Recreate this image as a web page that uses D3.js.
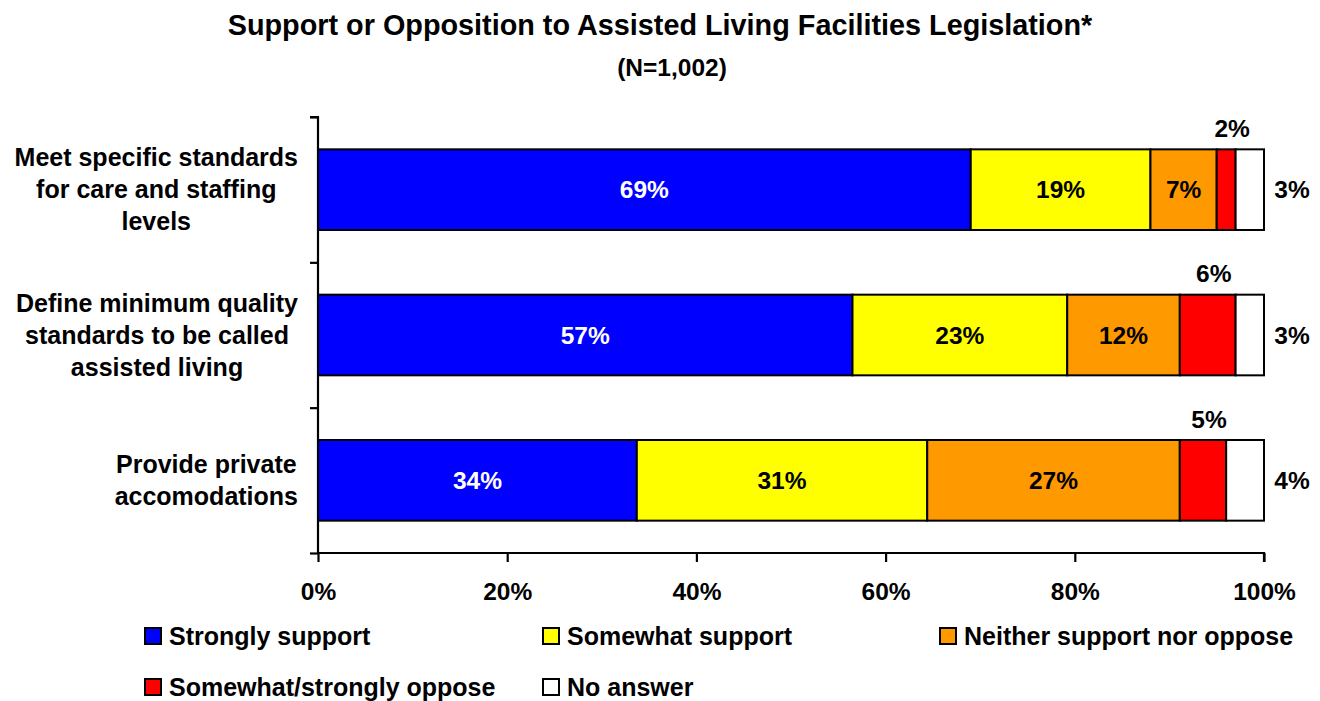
<!DOCTYPE html>
<html>
<head>
<meta charset="utf-8">
<script src="https://cdn.jsdelivr.net/npm/d3@7"></script>
<style>
  html, body { margin: 0; padding: 0; background: #fff; }
  svg { display: block; font-family: "Liberation Sans", Arial, sans-serif; font-weight: bold; }
</style>
</head>
<body>
<svg id="chart" width="1320" height="701"></svg>
<script>
// Survey items (each bar), wrapped into lines for the left-hand labels
const categories = [
  ["Meet specific standards", "for care and staffing", "levels"],
  ["Define minimum quality", "standards to be called", "assisted living"],
  ["Provide private", "accomodations"]
];

// Response shares, in percent, per item (same order as categories)
const stronglySupport  = [69.0, 56.5, 33.7];
const somewhatSupport  = [19.0, 22.7, 30.7];
const neitherSupport   = [7.0, 11.9, 26.7];
const oppose           = [2.0, 5.9, 4.9];
const noAnswer         = [3.0, 3.0, 4.0];

const seriesNames  = ["Strongly support", "Somewhat support", "Neither support nor oppose",
                      "Somewhat/strongly oppose", "No answer"];
const seriesColors = ["#0000FF", "#FFFF00", "#FF9900", "#FF0000", "#FFFFFF"];
const xTicks = [0, 20, 40, 60, 80, 100];

const title = "Support or Opposition to Assisted Living Facilities Legislation*";
const subtitle = "(N=1,002)";

const seriesValues = [stronglySupport, somewhatSupport, neitherSupport, oppose, noAnswer];

const svg = d3.select("#chart");
const margin = { left: 318, right: 1264, top: 117, bottom: 553 };

const x = d3.scaleLinear().domain([0, 100]).range([margin.left, margin.right]);
const slots = d3.range(categories.length);
const y = d3.scaleBand().domain(slots).range([margin.top, margin.bottom])
  .paddingInner(0.445).paddingOuter(0.2225);

// Title
svg.append("text").attr("x", 660).attr("y", 35).attr("text-anchor", "middle")
  .attr("font-size", 28.8).text(title);
svg.append("text").attr("x", 672).attr("y", 76).attr("text-anchor", "middle")
  .attr("font-size", 24.5).text(subtitle);

// Stack the segments
const rows = slots.map(i => {
  let acc = 0;
  return seriesValues.map((vals, s) => {
    const seg = { row: i, series: s, value: vals[i], x0: acc, x1: acc + vals[i] };
    acc += vals[i];
    return seg;
  });
});
const segments = rows.flat();

const g = svg.append("g");
g.selectAll("rect.seg").data(segments).join("rect")
  .attr("class", "seg")
  .attr("x", d => x(d.x0))
  .attr("y", d => y(d.row))
  .attr("width", d => x(d.x1) - x(d.x0))
  .attr("height", y.bandwidth())
  .attr("fill", d => seriesColors[d.series])
  .attr("stroke", "#000")
  .attr("stroke-width", 2);

// Value labels
const label = d => Math.round(d.value) + "%";
segments.forEach(d => {
  const cy = y(d.row) + y.bandwidth() / 2;
  const t = svg.append("text").attr("font-size", 24.5).text(label(d));
  if (d.series <= 2) {
    t.attr("x", (x(d.x0) + x(d.x1)) / 2).attr("y", cy + 8.5)
      .attr("text-anchor", "middle")
      .attr("fill", d.series === 0 ? "#fff" : "#000");
  } else if (d.series === 3) {
    t.attr("x", (x(d.x0) + x(d.x1)) / 2 + 6).attr("y", y(d.row) - 12.5)
      .attr("text-anchor", "middle");
  } else {
    t.attr("x", x(100) + 28).attr("y", cy + 8.5).attr("text-anchor", "middle");
  }
});

// Axes
const yAxis = d3.axisLeft(d3.scaleLinear().domain([0, categories.length]).range([margin.top, margin.bottom]))
  .tickValues(d3.range(categories.length + 1)).tickSize(8).tickFormat("");
const yg = svg.append("g").attr("transform", `translate(${margin.left},0)`).call(yAxis);
yg.selectAll("path, line").attr("stroke", "#000").attr("stroke-width", 2.2);
yg.select("path").attr("d", `M-8,${margin.top}H0V${margin.bottom}`);

const xAxis = d3.axisBottom(x).tickValues(xTicks).tickSize(9).tickFormat(d => d + "%");
const xg = svg.append("g").attr("transform", `translate(0,${margin.bottom})`).call(xAxis);
xg.select("path").attr("d", `M${margin.left},0H${margin.right}V9`).attr("stroke", "#000").attr("stroke-width", 2.2);
xg.selectAll("line").attr("stroke", "#000").attr("stroke-width", 2.2);
xg.selectAll("text").attr("font-size", 24.5).attr("font-family", "Liberation Sans, Arial, sans-serif")
  .attr("font-weight", "bold").attr("fill", "#000").attr("dy", 0).attr("y", 47);

// Category labels: each block right-aligned, lines centred within it
const lineH = 32;
categories.forEach((lines, i) => {
  const cy = y(i) + y.bandwidth() / 2;
  const blk = svg.append("g");
  const texts = lines.map((ln, k) => blk.append("text")
    .attr("font-size", 25).attr("text-anchor", "middle")
    .attr("y", cy + 8.5 + (k - (lines.length - 1) / 2) * lineH).text(ln));
  const w = d3.max(texts, t => t.node().getComputedTextLength());
  texts.forEach(t => t.attr("x", 298 - w / 2));
});

// Legend
const legendPos = [[145, 628], [543, 628], [940, 628], [145, 679], [543, 679]];
seriesNames.forEach((name, s) => {
  const [lx, ly] = legendPos[s];
  svg.append("rect").attr("x", lx).attr("y", ly).attr("width", 16).attr("height", 16)
    .attr("fill", seriesColors[s]).attr("stroke", "#000").attr("stroke-width", 2);
  svg.append("text").attr("x", lx + 24).attr("y", ly + 17).attr("font-size", 25).text(name);
});
</script>
</body>
</html>
